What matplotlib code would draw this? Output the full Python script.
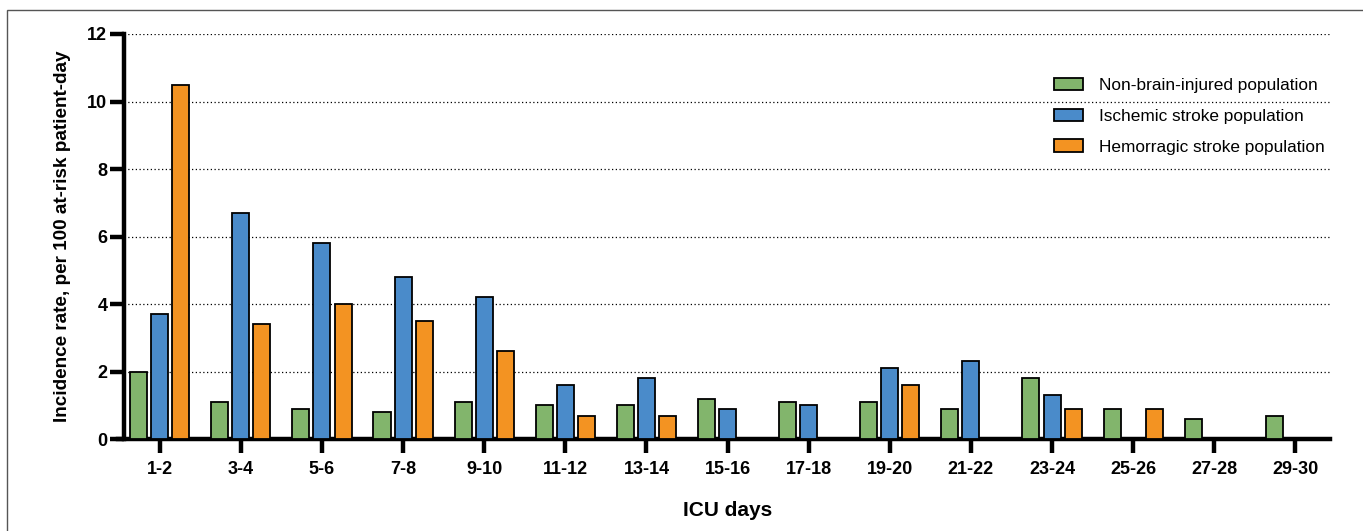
import numpy as np
import matplotlib
matplotlib.use('Agg')
import matplotlib.pyplot as plt
from matplotlib.patches import Rectangle

plt.rcParams['font.family'] = ['Liberation Sans', 'DejaVu Sans']

# ICU day bins
categories = ['1-2', '3-4', '5-6', '7-8', '9-10', '11-12', '13-14', '15-16',
              '17-18', '19-20', '21-22', '23-24', '25-26', '27-28', '29-30']

non_brain = [2.0, 1.1, 0.9, 0.8, 1.1, 1.0, 1.0, 1.2, 1.1, 1.1, 0.9, 1.8, 0.9, 0.6, 0.7]
ischemic = [3.7, 6.7, 5.8, 4.8, 4.2, 1.6, 1.8, 0.9, 1.0, 2.1, 2.3, 1.3, 0, 0, 0]
hemorragic = [10.5, 3.4, 4.0, 3.5, 2.6, 0.7, 0.7, 0, 0, 1.6, 0, 0.9, 0.9, 0, 0]

series_names = ['Non-brain-injured population', 'Ischemic stroke population',
                'Hemorragic stroke population']
colors = ['#82b56c', '#4a8bca', '#f39322']

fig = plt.figure(figsize=(13.63, 5.31), dpi=100)
ax = fig.add_axes([0.091, 0.173, 0.885, 0.763])

# thin frame around the figure area
fig.patches.append(Rectangle((0.005, -0.1), 1.1, 1.081, transform=fig.transFigure,
                             fill=False, edgecolor='#555555', linewidth=1.0))

x = np.arange(len(categories))
step = 0.26
width = 0.21
for i, (vals, name, c) in enumerate(zip([non_brain, ischemic, hemorragic], series_names, colors)):
    ax.bar(x + (i - 1) * step, vals, width=width, color=c, edgecolor='black',
           linewidth=1.3, label=name, zorder=3)

ax.set_xlim(-0.44, 14.43)
ax.set_ylim(0, 12)
ax.set_yticks([0, 2, 4, 6, 8, 10, 12])
ax.set_xticks(x)
ax.set_xticklabels(categories)

ax.yaxis.grid(True, linestyle=(0, (1, 2)), color='black', linewidth=0.9, zorder=0)
ax.set_axisbelow(True)

for s in ['top', 'right']:
    ax.spines[s].set_visible(False)
for s in ['left', 'bottom']:
    ax.spines[s].set_linewidth(3.2)
ax.spines['bottom'].set_bounds(-0.52, 14.43)
ax.spines['bottom'].set_position(('data', 0))

ax.tick_params(axis='both', width=3.2, length=10, labelsize=13)
ax.tick_params(axis='y', pad=2)
ax.tick_params(axis='x', pad=6)
for lbl in ax.get_xticklabels() + ax.get_yticklabels():
    lbl.set_fontweight('bold')

ax.set_ylabel('Incidence rate, per 100 at-risk patient-day', fontsize=13.6,
              fontweight='bold', labelpad=12)
ax.set_xlabel('ICU days', fontsize=15, fontweight='bold', labelpad=16)

leg = ax.legend(loc='upper right', bbox_to_anchor=(1.008, 0.93), frameon=False,
                fontsize=12.4, handlelength=1.7, handleheight=0.75,
                labelspacing=0.9, handletextpad=0.9)
for h in leg.legend_handles:
    h.set_linewidth(1.3)

fig.savefig('out.png', dpi=100)
